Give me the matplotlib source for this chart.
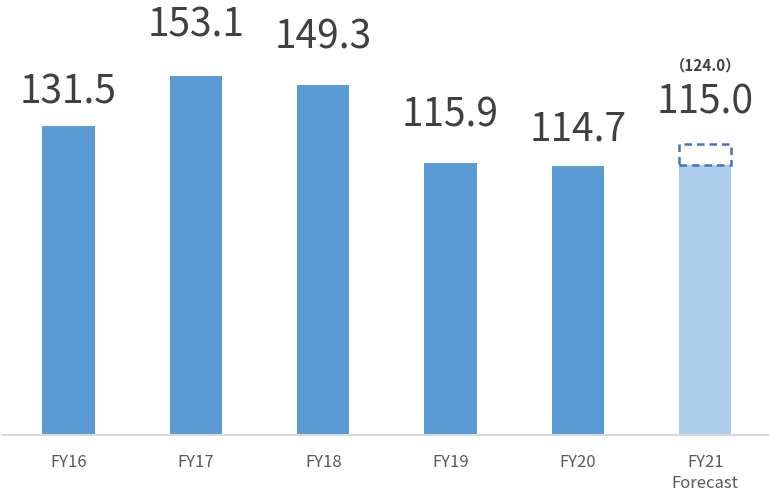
import matplotlib.pyplot as plt

categories = ["FY16", "FY17", "FY18", "FY19", "FY20", "FY21\nForecast"]
values = [131.5, 153.1, 149.3, 115.9, 114.7, 115.0]
forecast_target = 124.0

# gap (px) between bar top and label baseline, as in the original layout
label_gap_px = [23, 39, 36, 36, 25, 30]

plt.rcParams["font.family"] = ["Noto Sans CJK JP", "DejaVu Sans"]

fig = plt.figure(figsize=(7.69, 4.99), dpi=100)
ax = fig.add_axes([0.003, 64 / 499, 0.997, 435 / 499])

x = list(range(len(categories)))
colors = ["#5b9bd5"] * 5 + ["#adcdea"]
ax.bar(x, values, width=0.41, color=colors)

# dashed box for original forecast
ax.bar(x[-1], forecast_target - values[-1], bottom=values[-1], width=0.41,
       fill=False, edgecolor="#4472c4", linestyle=(0, (3, 2)), linewidth=1.8)

pt = 72 / 100  # px -> points
tops = values[:-1] + [forecast_target]
for xi, v, top, gap in zip(x, values, tops, label_gap_px):
    ax.annotate(f"{v:.1f}", (xi, top), xytext=(0, gap * pt), textcoords="offset points",
                ha="center", va="baseline", fontsize=28, color="#404040")
ax.annotate(f"（{forecast_target:.1f}）", (x[-1], forecast_target), xytext=(0, 73 * pt),
            textcoords="offset points", ha="center", va="baseline",
            fontsize=11, fontweight="bold", color="#404040")

ax.set_xlim(-0.52, 5.5)
ax.set_ylim(0, 185.3)
ax.set_xticks(x)
ax.set_xticklabels(categories, fontsize=12, color="#595959", linespacing=1.3, va="top")
ax.tick_params(axis="x", length=0, pad=14)
ax.set_yticks([])
for s in ["top", "right", "left"]:
    ax.spines[s].set_visible(False)
ax.spines["bottom"].set_color("#d9d9d9")
ax.spines["bottom"].set_linewidth(1.5)

fig.savefig("out.png", dpi=100)
